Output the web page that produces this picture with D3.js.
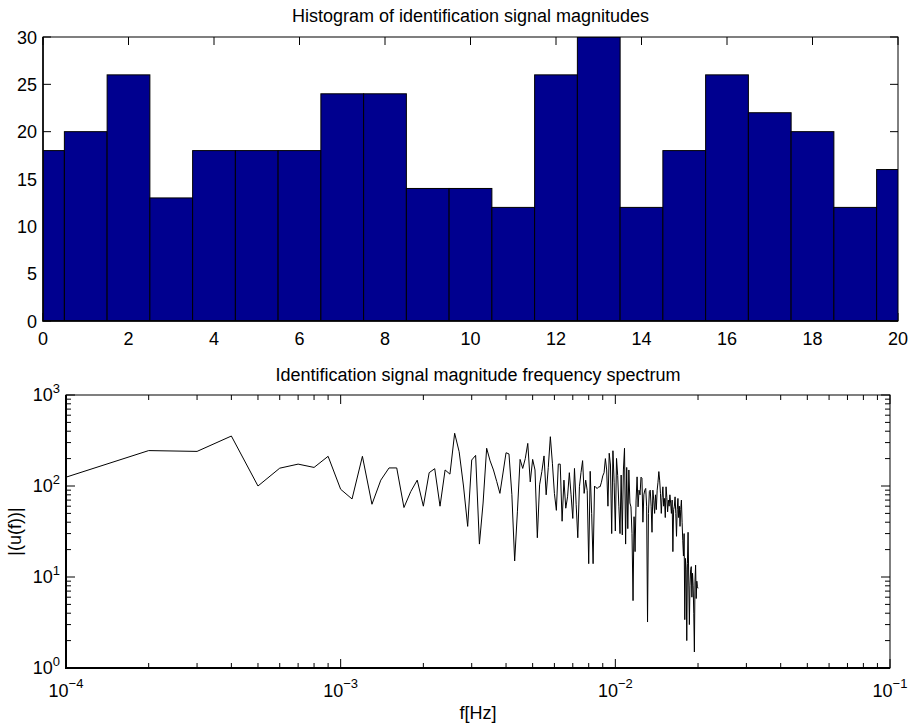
<!DOCTYPE html>
<html>
<head>
<meta charset="utf-8">
<script src="https://cdnjs.cloudflare.com/ajax/libs/d3/7.8.5/d3.min.js"></script>
<style>
  body { margin: 0; background: #fff; }
  text { font-family: "Liberation Sans", Arial, Helvetica, sans-serif; fill: #000; }
</style>
</head>
<body>
<div id="chart"></div>
<script>
// histogram data
const histBins = [0, 1, 2, 3, 4, 5, 6, 7, 8, 9, 10, 11, 12, 13, 14, 15, 16, 17, 18, 19, 20];
const histCounts = [18, 20, 26, 13, 18, 18, 18, 24, 24, 14, 14, 12, 26, 30, 12, 18, 26, 22, 20, 12, 16];
const histXTicks = [0, 2, 4, 6, 8, 10, 12, 14, 16, 18, 20];
const histYTicks = [0, 5, 10, 15, 20, 25, 30];

// spectrum data (bins at k * specStep, k = 1..200)
const specStep = 1e-4;
const specMag = [
  125, 245, 240, 354, 100, 157, 174, 160, 212, 92, 72, 212, 63, 116, 158, 158, 58, 87, 116, 60,
  140, 155, 60, 150, 135, 380, 238, 100, 36, 193, 217, 23, 65, 260, 189, 150, 112, 83, 139, 232,
  225, 81, 15, 52, 196, 156, 200, 294, 111, 196, 150, 27, 103, 144, 214, 80, 160, 348, 178, 83,
  54, 174, 174, 41, 116, 57, 76, 140, 80, 44, 156, 63, 27, 98, 141, 190, 83, 116, 89, 14,
  145, 50, 14, 100, 96, 94, 98, 98, 110, 129, 140, 200, 150, 60, 229, 170, 30, 244, 110, 32,
  201, 130, 60, 30, 132, 29, 150, 260, 23, 160, 34, 150, 65, 59, 30, 5.5, 46, 19, 70, 126,
  59, 90, 80, 125, 122, 40, 80, 90, 94, 60, 3.2, 50, 87, 90, 60, 31, 90, 70, 50, 80,
  55, 90, 110, 144, 116, 83, 50, 75, 98, 60, 73, 45, 98, 75, 52, 70, 60, 80, 65, 50,
  70, 19, 55, 60, 76, 50, 28, 55, 73, 45, 60, 36, 55, 70, 40, 25, 17, 30, 3.4, 16,
  12, 2.0, 14, 31, 10, 3.0, 8, 12, 13, 6, 11, 8, 4, 1.5, 9, 13.5, 5.8, 9, 7.8, 7.5
];
const specXTicks = [1e-4, 1e-3, 1e-2, 1e-1];
const specYTicks = [1, 10, 100, 1000];

const width = 909, height = 726;
const fontSize = 18, supSize = 13;

const svg = d3.select("#chart")
  .append("svg")
  .attr("width", width)
  .attr("height", height);

// ---------- top: histogram ----------
const h = {l: 43, r: 898, t: 37, b: 321};
const x1 = d3.scaleLinear().domain([0, 20]).range([h.l, h.r]);
const y1 = d3.scaleLinear().domain([0, 30]).range([h.b, h.t]);

svg.append("clipPath").attr("id", "clipH")
  .append("rect").attr("x", h.l).attr("y", h.t).attr("width", h.r - h.l).attr("height", h.b - h.t);

const g1 = svg.append("g");

// ticks first (they sit under the bars)
histXTicks.forEach(v => {
  g1.append("line").attr("x1", x1(v)).attr("x2", x1(v)).attr("y1", h.b).attr("y2", h.b - 8)
    .attr("stroke", "#000").attr("stroke-width", 1);
  g1.append("line").attr("x1", x1(v)).attr("x2", x1(v)).attr("y1", h.t).attr("y2", h.t + 8)
    .attr("stroke", "#000").attr("stroke-width", 1);
});
histYTicks.forEach(v => {
  g1.append("line").attr("x1", h.l).attr("x2", h.l + 8).attr("y1", y1(v)).attr("y2", y1(v))
    .attr("stroke", "#000").attr("stroke-width", 1);
  g1.append("line").attr("x1", h.r).attr("x2", h.r - 8).attr("y1", y1(v)).attr("y2", y1(v))
    .attr("stroke", "#000").attr("stroke-width", 1);
});

g1.append("g")
  .attr("clip-path", "url(#clipH)")
  .selectAll("rect")
  .data(histBins)
  .join("rect")
  .attr("x", (d) => x1(d - 0.5))
  .attr("width", x1(1) - x1(0))
  .attr("y", (d, i) => y1(histCounts[i]))
  .attr("height", (d, i) => y1(0) - y1(histCounts[i]))
  .attr("fill", "#00008f")
  .attr("stroke", "#000")
  .attr("stroke-width", 1);

g1.append("rect")
  .attr("x", h.l).attr("y", h.t).attr("width", h.r - h.l).attr("height", h.b - h.t)
  .attr("fill", "none").attr("stroke", "#000").attr("stroke-width", 1);
g1.append("path")
  .attr("d", `M${h.l},${h.t}V${h.b}H${h.r}`)
  .attr("fill", "none").attr("stroke", "#000").attr("stroke-width", 1.5);

g1.selectAll(".xl")
  .data(histXTicks)
  .join("text")
  .attr("x", d => x1(d))
  .attr("y", h.b + 24)
  .attr("text-anchor", "middle")
  .style("font-size", fontSize + "px")
  .text(d => d);

g1.selectAll(".yl")
  .data(histYTicks)
  .join("text")
  .attr("x", h.l - 6)
  .attr("y", d => y1(d) + 6.5)
  .attr("text-anchor", "end")
  .style("font-size", fontSize + "px")
  .text(d => d);

svg.append("text")
  .attr("x", (h.l + h.r) / 2)
  .attr("y", 22)
  .attr("text-anchor", "middle")
  .style("font-size", fontSize + "px")
  .text("Histogram of identification signal magnitudes");

// ---------- bottom: spectrum ----------
const s = {l: 66, r: 890, t: 395, b: 668};
const x2 = d3.scaleLog().domain([1e-4, 1e-1]).range([s.l, s.r]);
const y2 = d3.scaleLog().domain([1, 1000]).range([s.b, s.t]);

const g2 = svg.append("g");
const isMajor = v => Math.abs(Math.log10(v) - Math.round(Math.log10(v))) < 1e-6;

x2.ticks().forEach(v => {
  const len = isMajor(v) ? 9 : 5;
  g2.append("line").attr("x1", x2(v)).attr("x2", x2(v)).attr("y1", s.b).attr("y2", s.b - len)
    .attr("stroke", "#000").attr("stroke-width", 1);
  g2.append("line").attr("x1", x2(v)).attr("x2", x2(v)).attr("y1", s.t).attr("y2", s.t + len)
    .attr("stroke", "#000").attr("stroke-width", 1);
});
y2.ticks().forEach(v => {
  const len = isMajor(v) ? 9 : 5;
  g2.append("line").attr("x1", s.l).attr("x2", s.l + len).attr("y1", y2(v)).attr("y2", y2(v))
    .attr("stroke", "#000").attr("stroke-width", 1);
  g2.append("line").attr("x1", s.r).attr("x2", s.r - len).attr("y1", y2(v)).attr("y2", y2(v))
    .attr("stroke", "#000").attr("stroke-width", 1);
});

g2.append("rect")
  .attr("x", s.l).attr("y", s.t).attr("width", s.r - s.l).attr("height", s.b - s.t)
  .attr("fill", "none").attr("stroke", "#000").attr("stroke-width", 1);
g2.append("path")
  .attr("d", `M${s.l},${s.t}V${s.b}H${s.r}`)
  .attr("fill", "none").attr("stroke", "#000").attr("stroke-width", 2);

const line = d3.line()
  .x((d, i) => x2((i + 1) * specStep))
  .y(d => y2(d));

g2.append("path")
  .datum(specMag)
  .attr("d", line)
  .attr("fill", "none")
  .attr("stroke", "#000")
  .attr("stroke-width", 1);

// tick labels with exponents
specXTicks.forEach(v => {
  const t = g2.append("text")
    .attr("x", x2(v))
    .attr("y", s.b + 29)
    .attr("text-anchor", "middle")
    .style("font-size", fontSize + "px");
  t.append("tspan").text("10");
  t.append("tspan").attr("dy", -9).style("font-size", supSize + "px")
    .text(String(Math.round(Math.log10(v))).replace("-", "\u2212"));
});
specYTicks.forEach(v => {
  const t = g2.append("text")
    .attr("x", s.l - 6)
    .attr("y", y2(v) + 6)
    .attr("text-anchor", "end")
    .style("font-size", fontSize + "px");
  t.append("tspan").text("10");
  t.append("tspan").attr("dy", -8).style("font-size", supSize + "px")
    .text(Math.round(Math.log10(v)));
});

svg.append("text")
  .attr("x", (s.l + s.r) / 2)
  .attr("y", 381)
  .attr("text-anchor", "middle")
  .style("font-size", fontSize + "px")
  .text("Identification signal magnitude frequency spectrum");

svg.append("text")
  .attr("x", (s.l + s.r) / 2)
  .attr("y", 719)
  .attr("text-anchor", "middle")
  .style("font-size", fontSize + "px")
  .text("f[Hz]");

svg.append("text")
  .attr("transform", `translate(21,${(s.t + s.b) / 2}) rotate(-90)`)
  .attr("text-anchor", "middle")
  .style("font-size", fontSize + "px")
  .text("|(u(f))|");
</script>
</body>
</html>
